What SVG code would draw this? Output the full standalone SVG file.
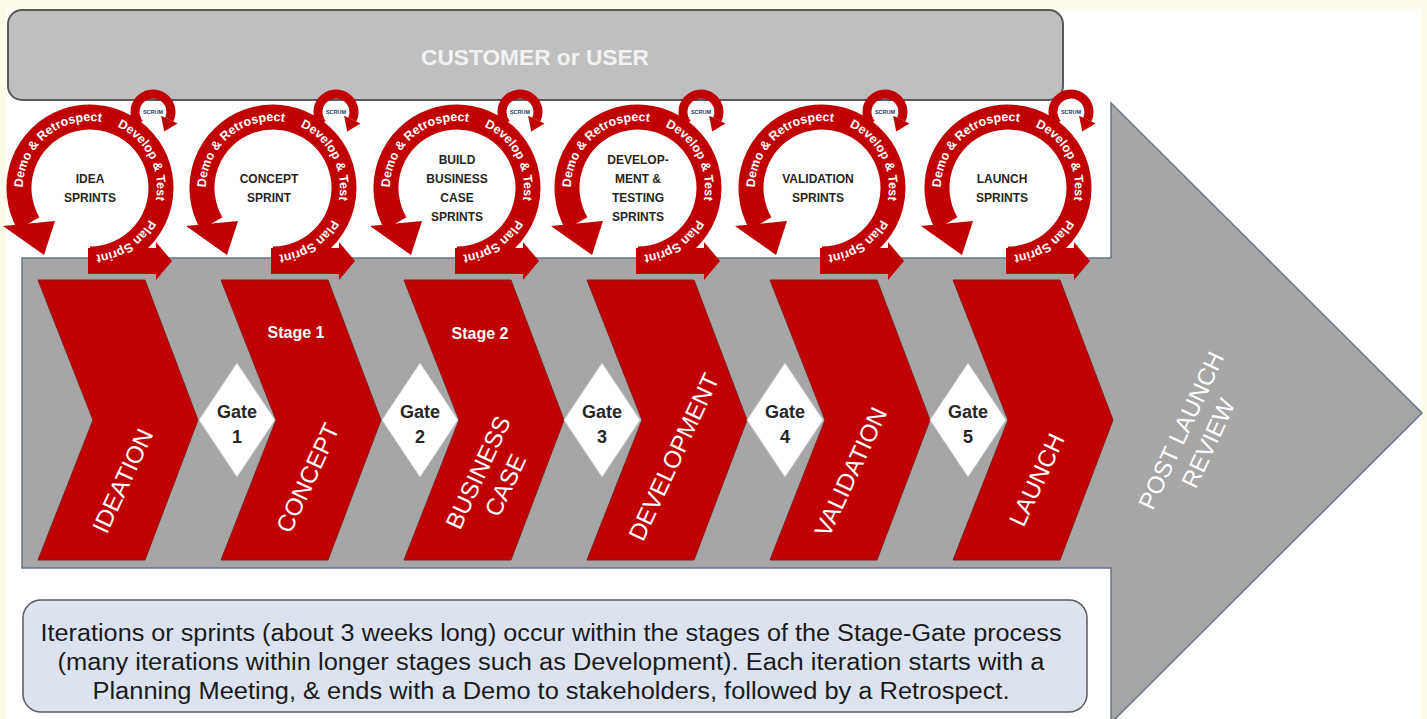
<svg xmlns="http://www.w3.org/2000/svg" width="1427" height="719" viewBox="0 0 1427 719">
<style>
 .ring{fill:none;stroke:#c00000;stroke-width:25}
 .loop{fill:none;stroke:#c00000;stroke-width:9}
 .red{fill:#c00000}
 .chev{fill:#c00000;stroke:#8a1c1c;stroke-width:1}
 .rt{font-family:"Liberation Sans",Arial,sans-serif;font-weight:bold;font-size:12.5px;fill:#fff;text-anchor:middle}
 .lbl{font-family:"Liberation Sans",Arial,sans-serif;font-weight:bold;font-size:12px;fill:#262626;text-anchor:middle}
 .scrum{font-family:"Liberation Sans",Arial,sans-serif;font-weight:bold;font-size:5.5px;fill:#1f3864;text-anchor:middle}
 .stage{font-family:"Liberation Sans",Arial,sans-serif;font-size:24px;fill:#fff;text-anchor:middle}
 .stg{font-family:"Liberation Sans",Arial,sans-serif;font-weight:bold;font-size:16px;fill:#fff;text-anchor:middle}
 .gate{fill:#fff;stroke:#d0d0d0;stroke-width:1}
 .gt{font-family:"Liberation Sans",Arial,sans-serif;font-weight:bold;font-size:18px;fill:#262626;text-anchor:middle}
 .note{font-family:"Liberation Sans",Arial,sans-serif;font-size:23px;fill:#1a1a1a;text-anchor:middle}
</style>
<defs>
 <path id="tp" d="M -67 0 A 67 67 0 1 1 67 0 A 67 67 0 1 1 -67 0"/>
 <g id="cyc">
  <path class="ring" d="M 0 71 A 71 71 0 1 0 -61.5 35.5"/>
  <polygon class="red" points="-87,38 -35,33 -46,67"/>
  <polygon class="red" points="-2,60 66,60 66,54 82,73 66,92 66,86 -2,86"/>
  <path class="loop" d="M 49.2 -64.4 A 18 18 0 1 1 79.3 -68.4"/>
  <polygon class="red" points="87.5,-64.6 71.1,-72.2 74.2,-56.5"/>
  <text class="scrum" x="63" y="-74">SCRUM</text>
  <text class="rt"><textPath href="#tp" startOffset="58.5">Demo &amp; Retrospect</textPath></text>
  <text class="rt"><textPath href="#tp" startOffset="177.7">Develop &amp; Test</textPath></text>
  <text class="rt"><textPath href="#tp" startOffset="276">Plan Sprint</textPath></text>
 </g>
</defs>

<rect x="0" y="0" width="1427" height="719" fill="#fffbea"/>
<rect x="7" y="9" width="1414" height="710" fill="#ffffff"/>

<g id="customer">
 <rect x="8" y="10" width="1055" height="90" rx="14" fill="#bfbfbf" stroke="#595959" stroke-width="2"/>
 <text x="535" y="65" font-family="Liberation Sans, Arial, sans-serif" font-weight="bold" font-size="22" fill="#f2f2f2" text-anchor="middle" textLength="228" lengthAdjust="spacingAndGlyphs">CUSTOMER or USER</text>
</g>

<g id="post-launch-review">
 <polygon points="22,258 1111,258 1111,103 1422,413 1111,723 1111,568 22,568" fill="#a6a6a6" stroke="#66758a" stroke-width="1.5"/>
 <text class="stage" transform="translate(1195,437) rotate(-65)" fill="#f2f2f2"><tspan x="0" y="-7">POST LAUNCH</tspan><tspan x="0" y="23">REVIEW</tspan></text>
</g>

<g id="stage-ideation">
 <polygon class="chev" points="38,280 145,280 198,420 145,560 38,560 93,420"/>
 <text class="stage" transform="translate(123,481) rotate(-65)" y="8">IDEATION</text>
</g>
<g id="stage-concept">
 <polygon class="chev" points="221,280 328,280 381,420 328,560 221,560 276,420"/>
 <text class="stg" x="296" y="338">Stage 1</text>
 <text class="stage" transform="translate(308,478) rotate(-65)" y="8">CONCEPT</text>
</g>
<g id="stage-business-case">
 <polygon class="chev" points="404,280 511,280 564,420 511,560 404,560 459,420"/>
 <text class="stg" x="480" y="339">Stage 2</text>
 <text class="stage" transform="translate(492,479) rotate(-65)"><tspan x="0" y="-7">BUSINESS</tspan><tspan x="0" y="23">CASE</tspan></text>
</g>
<g id="stage-development">
 <polygon class="chev" points="587,280 694,280 747,420 694,560 587,560 642,420"/>
 <text class="stage" transform="translate(674,457) rotate(-65)" y="8">DEVELOPMENT</text>
</g>
<g id="stage-validation">
 <polygon class="chev" points="770,280 877,280 930,420 877,560 770,560 825,420"/>
 <text class="stage" transform="translate(851,472) rotate(-65)" y="8">VALIDATION</text>
</g>
<g id="stage-launch">
 <polygon class="chev" points="953,280 1060,280 1113,420 1060,560 953,560 1008,420"/>
 <text class="stage" transform="translate(1037,480) rotate(-65)" y="8">LAUNCH</text>
</g>

<g id="gate-1"><polygon class="gate" points="237,363 275,420 237,477 199,420"/><text class="gt" x="237" y="418">Gate</text><text class="gt" x="237" y="443">1</text></g>
<g id="gate-2"><polygon class="gate" points="420,363 458,420 420,477 382,420"/><text class="gt" x="420" y="418">Gate</text><text class="gt" x="420" y="443">2</text></g>
<g id="gate-3"><polygon class="gate" points="602,363 640,420 602,477 564,420"/><text class="gt" x="602" y="418">Gate</text><text class="gt" x="602" y="443">3</text></g>
<g id="gate-4"><polygon class="gate" points="785,363 823,420 785,477 747,420"/><text class="gt" x="785" y="418">Gate</text><text class="gt" x="785" y="443">4</text></g>
<g id="gate-5"><polygon class="gate" points="968,363 1006,420 968,477 930,420"/><text class="gt" x="968" y="418">Gate</text><text class="gt" x="968" y="443">5</text></g>

<g id="cycle-idea" transform="translate(90,188)"><use href="#cyc"/><text class="lbl"><tspan x="0" y="-5">IDEA</tspan><tspan x="0" y="14">SPRINTS</tspan></text></g>
<g id="cycle-concept" transform="translate(273,188)"><use href="#cyc"/><text class="lbl"><tspan x="-4" y="-5">CONCEPT</tspan><tspan x="-4" y="14">SPRINT</tspan></text></g>
<g id="cycle-business" transform="translate(457,188)"><use href="#cyc"/><text class="lbl"><tspan x="0" y="-24">BUILD</tspan><tspan x="0" y="-5">BUSINESS</tspan><tspan x="0" y="14">CASE</tspan><tspan x="0" y="33">SPRINTS</tspan></text></g>
<g id="cycle-development" transform="translate(638,188)"><use href="#cyc"/><text class="lbl"><tspan x="0" y="-24">DEVELOP-</tspan><tspan x="0" y="-5">MENT &amp;</tspan><tspan x="0" y="14">TESTING</tspan><tspan x="0" y="33">SPRINTS</tspan></text></g>
<g id="cycle-validation" transform="translate(822,188)"><use href="#cyc"/><text class="lbl"><tspan x="-4" y="-5">VALIDATION</tspan><tspan x="-4" y="14">SPRINTS</tspan></text></g>
<g id="cycle-launch" transform="translate(1008,188)"><use href="#cyc"/><text class="lbl"><tspan x="-6" y="-5">LAUNCH</tspan><tspan x="-6" y="14">SPRINTS</tspan></text></g>

<g id="connectors"></g>

<g id="note">
 <rect x="23" y="600" width="1064" height="112" rx="18" fill="#dce3ef" stroke="#5a5a5a" stroke-width="1.5"/>
 <text class="note" x="551" y="641" textLength="1021" lengthAdjust="spacingAndGlyphs">Iterations or sprints (about 3 weeks long) occur within the stages of the Stage-Gate process</text>
 <text class="note" x="551" y="670" textLength="987" lengthAdjust="spacingAndGlyphs">(many iterations within longer stages such as Development). Each iteration starts with a</text>
 <text class="note" x="551" y="699" textLength="917" lengthAdjust="spacingAndGlyphs">Planning Meeting, &amp; ends with a Demo to stakeholders, followed by a Retrospect.</text>
</g>
</svg>
